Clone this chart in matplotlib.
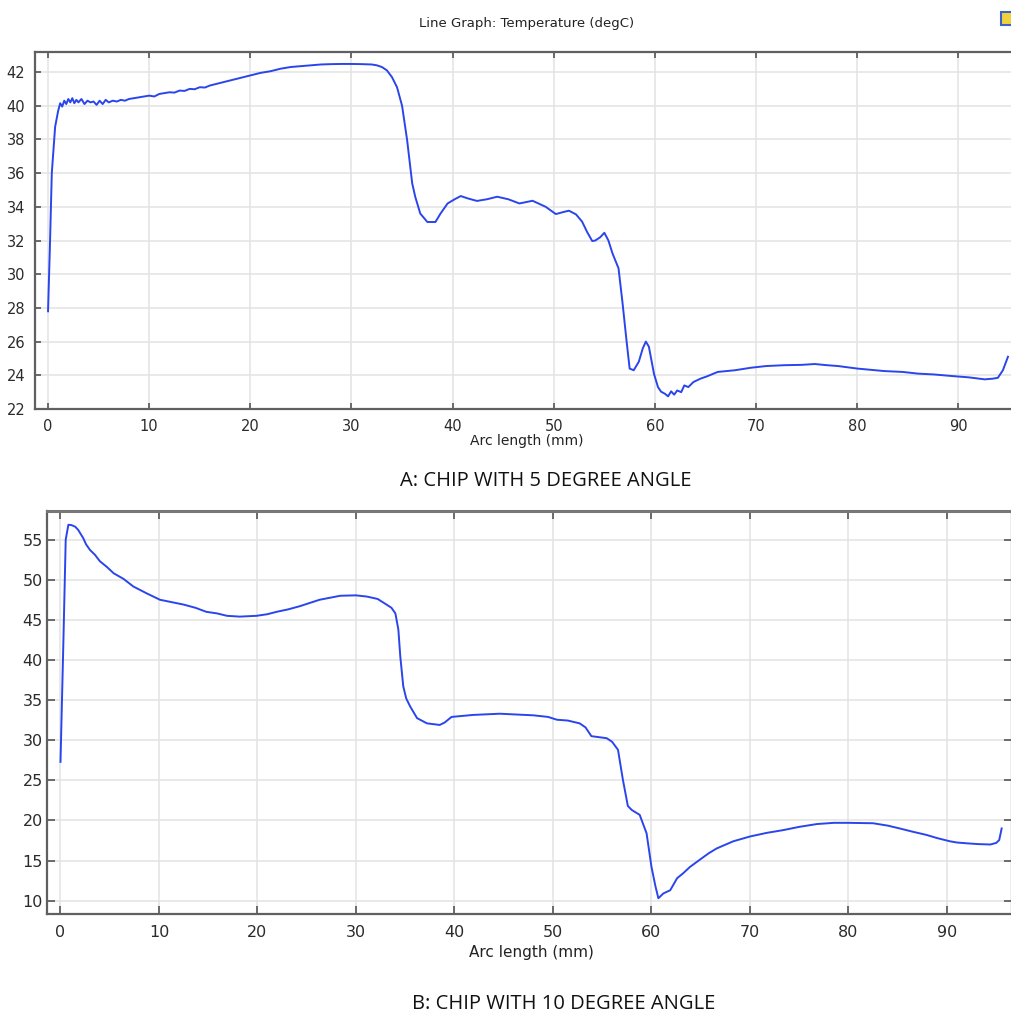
import matplotlib
matplotlib.use("Agg")
import matplotlib.pyplot as plt
from matplotlib.patches import Rectangle

# ---- Chip with 5 degree angle: temperature (degC) along arc length (mm)
arc_a = [0, 0.2, 0.37, 0.7, 1.0, 1.2, 1.4, 1.6, 1.8, 2.0,
         2.2, 2.4, 2.6, 2.8, 3.0, 3.3, 3.6, 3.9, 4.2, 4.5,
         4.8, 5.1, 5.4, 5.7, 6.0, 6.4, 6.8, 7.2, 7.6, 8.0,
         8.5, 9.0, 9.5, 10.0, 10.5, 11.0, 11.5, 12.0, 12.5, 13,
         13.5, 14, 14.5, 15, 15.5, 16, 17, 18, 19, 20,
         21, 22, 23, 24, 25, 26, 27, 28, 29, 30,
         31, 32, 32.5, 33, 33.5, 34.0, 34.5, 35.0, 35.5, 36.0,
         36.3, 36.8, 37.5, 38.3, 38.8, 39.5, 40.2, 40.8, 41.5, 42.4,
         43.4, 44.4, 45.5, 46.6, 47.9, 49.2, 50.2, 51.0, 51.5, 52.2,
         52.8, 53.3, 53.8, 54.1, 54.6, 55.0, 55.4, 55.8, 56.4, 56.8,
         57.2, 57.5, 57.9, 58.4, 58.8, 59.1, 59.4, 59.9, 60.3, 60.6,
         61.0, 61.3, 61.6, 61.9, 62.2, 62.6, 62.9, 63.3, 63.8, 64.5,
         65.2, 66.2, 67.0, 67.9, 69.5, 71, 72.8, 74.5, 75.8, 77,
         78.1, 80, 82.7, 84.5, 86, 87.6, 89.3, 91, 92.6, 93.4,
         93.9, 94.4, 94.9]
temp_a = [27.8, 32.0, 36.0, 38.75, 39.7, 40.15, 39.95, 40.3, 40.1, 40.4,
          40.2, 40.45, 40.15, 40.35, 40.2, 40.4, 40.1, 40.3, 40.2, 40.25,
          40.05, 40.3, 40.1, 40.35, 40.2, 40.3, 40.25, 40.35, 40.3, 40.4,
          40.45, 40.5, 40.55, 40.6, 40.55, 40.7, 40.75, 40.8, 40.78, 40.9,
          40.88, 41.0, 40.98, 41.1, 41.08, 41.2, 41.35, 41.5, 41.65, 41.8,
          41.95, 42.05, 42.2, 42.3, 42.35, 42.4, 42.45, 42.47, 42.48, 42.48,
          42.47, 42.45, 42.4, 42.3, 42.1, 41.7, 41.1, 40.0, 37.96, 35.4,
          34.6, 33.6, 33.1, 33.1, 33.6, 34.2, 34.45, 34.64, 34.5, 34.35,
          34.45, 34.6, 34.45, 34.2, 34.36, 34.0, 33.57, 33.7, 33.77, 33.55,
          33.12, 32.5, 31.97, 32.0, 32.2, 32.46, 32.0, 31.24, 30.35, 28.27,
          26.0, 24.4, 24.3, 24.8, 25.6, 26.0, 25.7, 24.1, 23.3, 23.03,
          22.9, 22.75, 23.05, 22.85, 23.1, 23.0, 23.4, 23.3, 23.6, 23.8,
          23.95, 24.2, 24.25, 24.3, 24.45, 24.55, 24.6, 24.62, 24.67, 24.6,
          24.55, 24.4, 24.25, 24.2, 24.1, 24.05, 23.96, 23.88, 23.76, 23.8,
          23.85, 24.3, 25.1]

# ---- Chip with 10 degree angle
arc_b = [0, 0.29, 0.53, 0.8, 1.13, 1.5, 1.8, 2.3, 2.6, 3.0,
         3.5, 4.0, 4.7, 5.4, 6.4, 7.4, 8.75, 10.1, 11.3, 12.5,
         13.7, 14.8, 15.9, 16.9, 18.2, 19.9, 21.0, 21.95, 23.1, 24.3,
         26.3, 28.4, 30.0, 31.1, 32.2, 33.1, 33.6, 34.0, 34.3, 34.5,
         34.8, 35.1, 35.5, 36.2, 37.2, 38.5, 39.0, 39.7, 41.9, 44.6,
         48.0, 49.5, 50.4, 51.5, 52.7, 53.3, 53.9, 55.45, 56.0, 56.6,
         57.1, 57.6, 58.0, 58.8, 59.5, 60.0, 60.4, 60.7, 61.2, 61.9,
         62.6, 63.2, 63.9, 64.9, 65.8, 66.6, 68.3, 70.0, 71.7, 73.4,
         75.0, 76.8, 78.5, 80.0, 82.5, 84.0, 85.2, 86.5, 87.9, 89.0,
         90.3, 91.0, 92.0, 93.2, 94.4, 95.0, 95.3, 95.55]
temp_b = [27.3, 42.1, 55.0, 56.85, 56.8, 56.6, 56.2, 55.2, 54.4, 53.7,
          53.1, 52.3, 51.6, 50.8, 50.1, 49.15, 48.3, 47.5, 47.2, 46.9,
          46.5, 46.0, 45.8, 45.5, 45.4, 45.5, 45.7, 46.0, 46.3, 46.7,
          47.5, 48.0, 48.05, 47.9, 47.6, 46.9, 46.5, 45.8, 43.8, 40.4,
          36.7, 35.2, 34.2, 32.75, 32.1, 31.9, 32.2, 32.9, 33.15, 33.3,
          33.1, 32.9, 32.55, 32.45, 32.1, 31.6, 30.5, 30.25, 29.8, 28.8,
          25.05, 21.8, 21.3, 20.7, 18.4, 14.2, 11.8, 10.3, 10.9, 11.3,
          12.8, 13.4, 14.2, 15.1, 15.9, 16.5, 17.4, 18.0, 18.45, 18.8,
          19.2, 19.55, 19.7, 19.7, 19.65, 19.35, 19.0, 18.6, 18.2, 17.8,
          17.4, 17.25, 17.15, 17.05, 17.0, 17.2, 17.55, 19.0]

xticks = [0, 10, 20, 30, 40, 50, 60, 70, 80, 90]
yticks_a = [22, 24, 26, 28, 30, 32, 34, 36, 38, 40, 42]
yticks_b = [10, 15, 20, 25, 30, 35, 40, 45, 50, 55]

LINE = "#2a45ec"
SPINE = "#606060"
GRID = "#e3e3e3"

W, H = 1012, 1017
fig = plt.figure(figsize=(W / 100, H / 100), dpi=100)
fig.patch.set_facecolor("white")


def style_axes(ax, label_size, tick_len, label_pad_x, label_pad_y, right_ticks):
    ax.set_facecolor("white")
    ax.grid(True, color=GRID, linewidth=1.1)
    ax.set_axisbelow(True)
    for side, sp in ax.spines.items():
        sp.set_color(SPINE)
        sp.set_linewidth(1.6)
    ax.spines["right"].set_visible(right_ticks)
    ax.tick_params(axis="both", direction="in", length=tick_len, width=1.3,
                   color=SPINE, labelsize=label_size, labelcolor="#2b2b2b",
                   top=True, right=right_ticks)
    ax.tick_params(axis="x", pad=label_pad_x)
    ax.tick_params(axis="y", pad=label_pad_y)


# ---- upper panel
ax1 = fig.add_axes([35 / W, 1 - 409 / H, 1 - 35 / W + 0.002, (409 - 52) / H])
ax1.plot(arc_a, temp_a, color=LINE, linewidth=1.4)
ax1.set_xlim(-1.29, 95.5)
ax1.set_ylim(22, 43.19)
ax1.set_xticks(xticks)
ax1.set_yticks(yticks_a)
style_axes(ax1, 10.5, 4, 7, 7, False)

fig.text(527 / W, 1 - 24 / H, "Line Graph: Temperature (degC)", ha="center",
         va="center", fontsize=9.5, color="#222222")
fig.text(527 / W, 1 - 441 / H, "Arc length (mm)", ha="center", va="center",
         fontsize=10, color="#222222")
fig.text(546 / W, 1 - 481 / H, "A: CHIP WITH 5 DEGREE ANGLE", ha="center",
         va="center", fontsize=14.5, family="Open Sans", color="#111111")

# ---- lower panel
ax2 = fig.add_axes([47 / W, 1 - 914 / H, 1 - 47 / W, (914 - 510.7) / H])
ax2.plot(arc_b, temp_b, color=LINE, linewidth=1.4)
ax2.set_xlim(-1.37, 96.6)
ax2.set_ylim(8.34, 58.6)
ax2.set_xticks(xticks)
ax2.set_yticks(yticks_b)
style_axes(ax2, 11.5, 6, 8, 3, True)
ax2.spines["top"].set_color("#777777")
ax2.spines["top"].set_linewidth(2.2)

fig.text(531 / W, 1 - 953 / H, "Arc length (mm)", ha="center", va="center",
         fontsize=11, color="#222222")
fig.text(564 / W, 1 - 1004 / H, "B: CHIP WITH 10 DEGREE ANGLE", ha="center",
         va="center", fontsize=14.5, family="Open Sans", color="#111111")

# small toolbar icon in the upper right corner
fig.patches.append(Rectangle((1001 / W, 1 - 25 / H), 12 / W, 13 / H,
                             transform=fig.transFigure, facecolor="#f2d23c",
                             edgecolor="#3a64c8", linewidth=1.5))

fig.savefig("out.png", dpi=100, facecolor="white")
